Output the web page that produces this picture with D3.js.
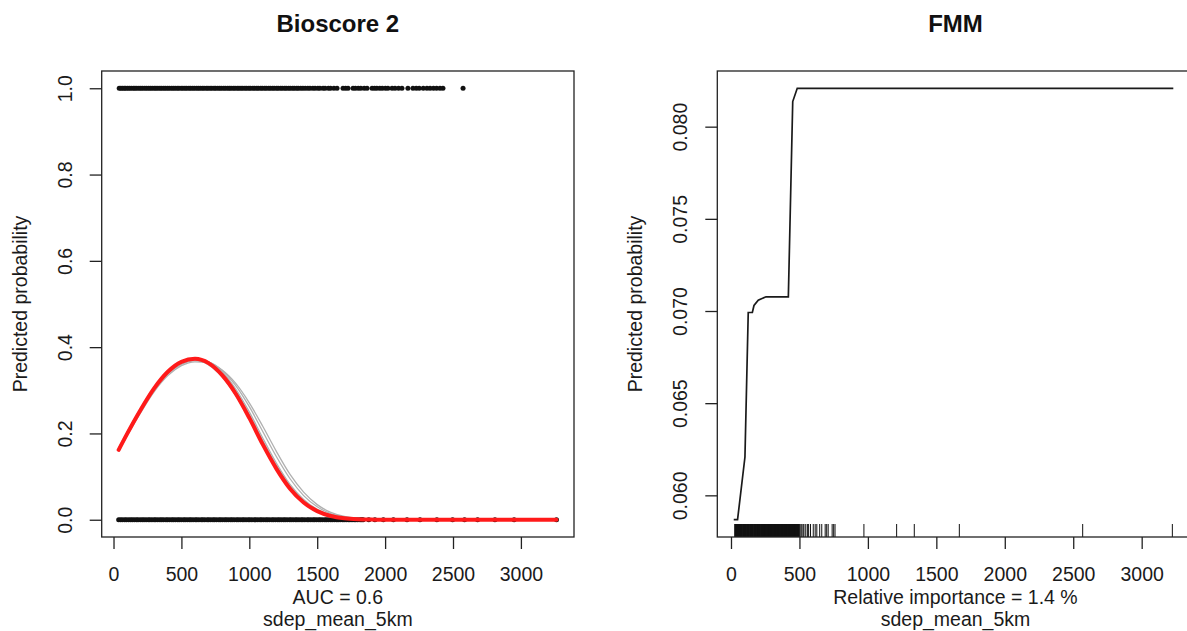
<!DOCTYPE html>
<html>
<head>
<meta charset="utf-8">
<script src="https://cdn.jsdelivr.net/npm/d3@7"></script>
<style>
	body { margin: 0; background: #fff; }
	svg { display: block; font-family: 'Liberation Sans', Arial, Helvetica, sans-serif; }
	.tick line { stroke: #222; stroke-width: 1.3; }
	.tick text { font-size: 19.5px; fill: #1a1a1a; }
	.box { fill: none; stroke: #222; stroke-width: 1.3; }
	.lbl { font-size: 19.5px; fill: #1a1a1a; text-anchor: middle; }
	.ttl { font-size: 24px; font-weight: bold; fill: #111; text-anchor: middle; }
</style>
</head>
<body>
<div id="chart"></div>
<script>

// left panel: Bioscore 2
var presenceX = [42,54,66,79,90,104,117,131,146,158,172,187,201,214,230,243,258,271,285,300,313,327,342,355,370,383,398,411,427,440,454,469,482,498,511,526,539,555,568,583,596,612,625,639,654,667,683,696,711,724,740,752,768,782,795,811,824,840,853,866,882,895,911,924,939,952,968,981,997,1009,1026,1039,1055,1067,1084,1096,1113,1125,1142,1155,1171,1184,1201,1213,1230,1243,1260,1272,1289,1302,1319,1332,1349,1361,1379,1395,
	1412,1431,1447,1468,1484,1505,1520,1543,1558,1582,1598,1623,1646,1690,1709,1727,1764,1781,1802,1821,1846,1867,1904,1922,1939,1961,1979,2002,2021,2051,2073,2099,2124,2168,2205,2229,2251,2281,2308,2331,2356,2379,2404,2426,2574]

var absenceX = [38,52,66,82,95,111,126,139,154,169,181,197,212,225,240,256,268,283,299,311,326,342,355,369,386,398,413,429,441,456,472,484,499,516,528,543,559,571,586,602,614,629,646,658,672,689,701,716,732,744,759,776,788,803,819,831,846,862,874,889,906,918,933,949,961,976,992,1004,1019,1036,1048,1063,1079,1091,1106,1122,1134,1149,1166,1178,1193,1209,1221,1236,1252,1264,1279,1296,1308,1323,1339,1351,1366,1382,1394,1409,1426,1438,1453,1469,1481,1496,1512,1524,1539,1556,1568,1583,1599,1611,1626,1642,1654,1669,1686,1698,1713,1729,1741,1756,1772,1784,1799,1816,1828,1838,
	1880,1925,1987,2061,2161,2257,2381,2497,2585,2681,2809,2950,3262]

var curveX = [38,100,200,300,400,500,600,700,800,900,1000,1100,1200,1300,1400,1500,1600,1700,1800,1900,2000,2200,2500,2800,3000,3262]

var meanY = [0.162,0.199,0.255,0.305,0.343,0.366,0.373,0.363,0.335,0.292,0.236,0.174,0.118,0.072,0.040,0.020,0.0088,0.0035,0.0012,0.0004,0.0001,0,0,0,0,0]

var bootY1 = [0.160,0.197,0.252,0.302,0.340,0.364,0.372,0.366,0.343,0.303,0.250,0.189,0.131,0.082,0.047,0.024,0.011,0.0045,0.0016,0.0005,0.0002,0,0,0,0,0]
var bootY2 = [0.165,0.200,0.254,0.302,0.338,0.360,0.369,0.365,0.346,0.311,0.262,0.204,0.146,0.095,0.056,0.030,0.014,0.006,0.0025,0.0009,0.0003,0.0001,0,0,0,0]
var bootY3 = [0.158,0.194,0.248,0.297,0.334,0.357,0.366,0.363,0.347,0.316,0.271,0.216,0.158,0.105,0.064,0.035,0.017,0.0075,0.003,0.0011,0.0004,0.0001,0,0,0,0]
var bootY4 = [0.163,0.200,0.256,0.306,0.344,0.367,0.374,0.366,0.339,0.298,0.244,0.183,0.126,0.078,0.044,0.022,0.010,0.004,0.0014,0.0005,0.0001,0,0,0,0,0]
var bootY5 = [0.166,0.203,0.258,0.307,0.343,0.364,0.370,0.359,0.331,0.288,0.233,0.172,0.116,0.071,0.039,0.019,0.008,0.003,0.001,0.0003,0.0001,0,0,0,0,0]

var leftXTicks = [0,500,1000,1500,2000,2500,3000]
var leftYTicks = [0,0.2,0.4,0.6,0.8,1]

// right panel: FMM
var fmmX = [20,48,102,126,156,168,199,256,419,451,484,3231]
var fmmY = [0.05868,0.05868,0.06208,0.06992,0.06992,0.07030,0.07059,0.07077,0.07077,0.08136,0.08208,0.08208]

var rugX = [29,35,40,47,52,57,64,69,75,80,87,92,98,104,109,116,121,127,132,139,144,150,156,161,168,173,179,184,191,196,202,208,213,220,225,231,236,243,248,254,260,265,272,277,283,288,295,300,306,312,317,324,329,335,340,347,352,358,364,369,376,381,387,392,399,404,410,416,421,428,433,439,444,451,456,462,468,473,480,485,491,497,
	503,511,518,527,533,546,558,567,581,601,615,627,648,663,688,699,710,739,750,760,
	971,1210,1339,1668,2569,3224]

var rightXTicks = [0,500,1000,1500,2000,2500,3000]
var rightYTicks = [0.060,0.065,0.070,0.075,0.080]

var W = 1187, H = 631

var svg = d3.select('#chart').append('svg')
	.attr('width', W)
	.attr('height', H)

var plotTop = 71, plotBottom = 537

var drawFrame = function(g, xScale, yScale, xTicks, yTicks, yFmt, title, sub) {

	var x0 = xScale.range()[0], x1 = xScale.range()[1]

	var ax = d3.axisBottom(xScale)
		.tickValues(xTicks)
		.tickSize(12)
		.tickSizeOuter(0)
		.tickFormat(d3.format('d'))

	g.append('g')
		.attr('transform', 'translate(0,' + plotBottom + ')')
		.call(ax)
		.call(function(s) { s.select('.domain').remove() })
		.selectAll('text')
		.attr('y', 44)
		.attr('dy', 0)

	var ay = d3.axisLeft(yScale)
		.tickValues(yTicks)
		.tickSize(12)
		.tickSizeOuter(0)
		.tickFormat(yFmt)

	g.append('g')
		.attr('transform', 'translate(' + x0 + ',0)')
		.call(ay)
		.call(function(s) { s.select('.domain').remove() })
		.selectAll('text')
		.attr('transform', 'rotate(-90)')
		.attr('x', 0)
		.attr('y', -30)
		.attr('dy', 0)
		.style('text-anchor', 'middle')

	var cx = (x0 + x1) / 2

	g.append('text')
		.attr('class', 'ttl')
		.attr('x', cx)
		.attr('y', 32)
		.text(title)

	g.append('text')
		.attr('class', 'lbl')
		.attr('x', cx)
		.attr('y', plotBottom + 67)
		.text(sub)

	g.append('text')
		.attr('class', 'lbl')
		.attr('x', cx)
		.attr('y', plotBottom + 89)
		.text('sdep_mean_5km')

	g.append('text')
		.attr('class', 'lbl')
		.attr('transform', 'translate(' + (x0 - 75) + ',' + ((plotTop + plotBottom) / 2) + ') rotate(-90)')
		.text('Predicted probability')

}

// ---- left
var xL = d3.scaleLinear()
	.domain([-87, 3391])
	.range([101.7, 574])

var yL = d3.scaleLinear()
	.domain([-0.04, 1.04])
	.range([plotBottom, plotTop])

var left = svg.append('g')

left.append('g')
	.selectAll('circle')
	.data(presenceX)
	.enter().append('circle')
	.attr('cx', function(d) { return xL(d) })
	.attr('cy', yL(1))
	.attr('r', 2.5)
	.attr('fill', '#111')

left.append('g')
	.selectAll('circle')
	.data(absenceX)
	.enter().append('circle')
	.attr('cx', function(d) { return xL(d) })
	.attr('cy', yL(0))
	.attr('r', 2.5)
	.attr('fill', '#111')

var lineL = function(ys) {
	return d3.line()
		.x(function(d, i) { return xL(curveX[i]) })
		.y(function(d) { return yL(d) })
		.curve(d3.curveMonotoneX)(ys)
}

;[bootY1, bootY2, bootY3, bootY4, bootY5].forEach(function(ys) {
	left.append('path')
		.attr('d', lineL(ys))
		.attr('fill', 'none')
		.attr('stroke', '#b0b0b0')
		.attr('stroke-width', 1.3)
})

left.append('path')
	.attr('d', lineL(meanY))
	.attr('fill', 'none')
	.attr('stroke', '#ff1a1a')
	.attr('stroke-width', 4)
	.attr('stroke-linecap', 'round')

drawFrame(left, xL, yL, leftXTicks, leftYTicks, d3.format('.1f'), 'Bioscore 2', 'AUC = 0.6')

left.append('rect')
	.attr('class', 'box')
	.attr('x', 101.7)
	.attr('y', plotTop)
	.attr('width', 574 - 101.7)
	.attr('height', plotBottom - plotTop)

// ---- right
var xR = d3.scaleLinear()
	.domain([-100, 3380])
	.range([717.3, 1193.7])

var yR = d3.scaleLinear()
	.domain([0.05774, 0.08302])
	.range([plotBottom, plotTop])

var right = svg.append('g')

right.append('g')
	.selectAll('line')
	.data(rugX)
	.enter().append('line')
	.attr('x1', function(d) { return xR(d) })
	.attr('x2', function(d) { return xR(d) })
	.attr('y1', plotBottom)
	.attr('y2', plotBottom - 13)
	.attr('stroke', '#111')
	.attr('stroke-width', function(d) { return d < 500 ? 1.6 : 1 })

right.append('path')
	.attr('d', d3.line()
		.x(function(d, i) { return xR(fmmX[i]) })
		.y(function(d) { return yR(d) })(fmmY))
	.attr('fill', 'none')
	.attr('stroke', '#1a1a1a')
	.attr('stroke-width', 1.7)

drawFrame(right, xR, yR, rightXTicks, rightYTicks, d3.format('.3f'), 'FMM', 'Relative importance = 1.4 %')

right.append('rect')
	.attr('class', 'box')
	.attr('x', 717.3)
	.attr('y', plotTop)
	.attr('width', 1193.7 - 717.3)
	.attr('height', plotBottom - plotTop)

</script>
</body>
</html>
